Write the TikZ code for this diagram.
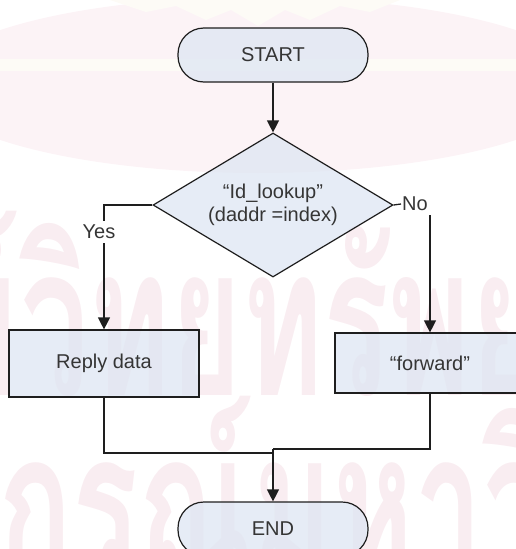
\documentclass[tikz,border=0pt]{standalone}
\usepackage{fontspec}
\setmainfont{Liberation Sans}
\newfontfamily\thaifont[Script=Thai]{Loma}
\usetikzlibrary{shapes.geometric,arrows.meta}

\definecolor{boxfill}{HTML}{DEE6F3}
\definecolor{textgrey}{HTML}{353535}
\definecolor{linecol}{HTML}{1E1E1E}
\definecolor{wmpink}{HTML}{FCF3F6}
\definecolor{wmrose}{HTML}{F9EDF1}
\definecolor{wmcream}{HTML}{FDFBF6}

\begin{document}
\begin{tikzpicture}[x=1pt,y=-1pt,
  flowline/.style={draw=linecol,line width=1.3pt},
  arrowline/.style={flowline,-{Triangle[length=12pt,width=12pt]}},
  labeltext/.style={font=\fontsize{20}{23}\selectfont,text=textgrey},
  shaded/.style={draw=linecol,line width=1.2pt,fill=boxfill,fill opacity=0.75,
    draw opacity=1,text opacity=1},
  terminal/.style={labeltext,shaded,rounded corners=26pt,
    minimum width=190pt,minimum height=54pt,inner sep=0pt},
  decision/.style={labeltext,shaded,diamond,minimum width=240pt,minimum height=144pt,
    aspect=1.667,inner sep=0pt,align=center},
  process/.style={labeltext,shaded,rectangle,minimum width=190pt,inner sep=0pt},
  branch/.style={labeltext,inner xsep=1pt,inner ysep=4pt},
  wmark/.style={text=wmrose,inner sep=0pt,
    font=\thaifont\bfseries\fontsize{105}{105}\selectfont}]

\useasboundingbox (0,0) rectangle (516,549);

% page watermark in the background
\fill[wmpink] (258,85) ellipse [x radius=330,y radius=88];
\fill[wmcream] (0,59) rectangle (516,71);
\fill[wmcream] (110,0) -- (400,0) -- (370,12) -- (340,6) -- (310,20) -- (285,10)
  -- (258,26) -- (231,10) -- (206,20) -- (176,6) -- (146,12) -- cycle;
\node[wmark,anchor=base east] (wma) at (20,395) {\scalebox{1.17}[2]{ศูนย์}};
\node[wmark,anchor=base west] (wmb) at (20,395) {\scalebox{1.17}[2]{วิทยทรัพยากร}};
\node[wmark,anchor=base west] (wmc) at (-2,580) {\scalebox{1.17}[2]{กรณ์มหาวิทยาลัย}};

% flowchart nodes
\node[terminal] (start) at (273,55) {START};
\node[decision] (lookup) at (273,205) {“Id\_lookup”\\(daddr =index)};
\node[process,minimum height=67pt] (reply) at (104,363.5) {Reply data};
\node[process,minimum height=60pt] (fwd) at (430,363) {“forward”};
\node[terminal] (end) at (273,529) {END};

% branch labels
\node[branch] (yes) at (99,232) {Yes};
\node[branch,anchor=west] (no) at (401,204) {No};

% join points below the two actions
\coordinate (joinL) at (273,453);
\coordinate (joinR) at (273,449);

% connectors
\draw[arrowline] (start) -- (lookup);
\draw[flowline] (lookup.west) -| (reply.north |- yes.north);
\draw[arrowline] (reply.north |- yes.south) -- (reply.north);
\draw[flowline] (lookup.east) -- (no.west);
\draw[arrowline] (fwd.north |- no.south) -- (fwd.north);
\draw[flowline] (reply.south) |- (joinL);
\draw[flowline] (fwd.south) |- (joinR);
\draw[arrowline] (joinR) -- (end.north);
\end{tikzpicture}
\end{document}
